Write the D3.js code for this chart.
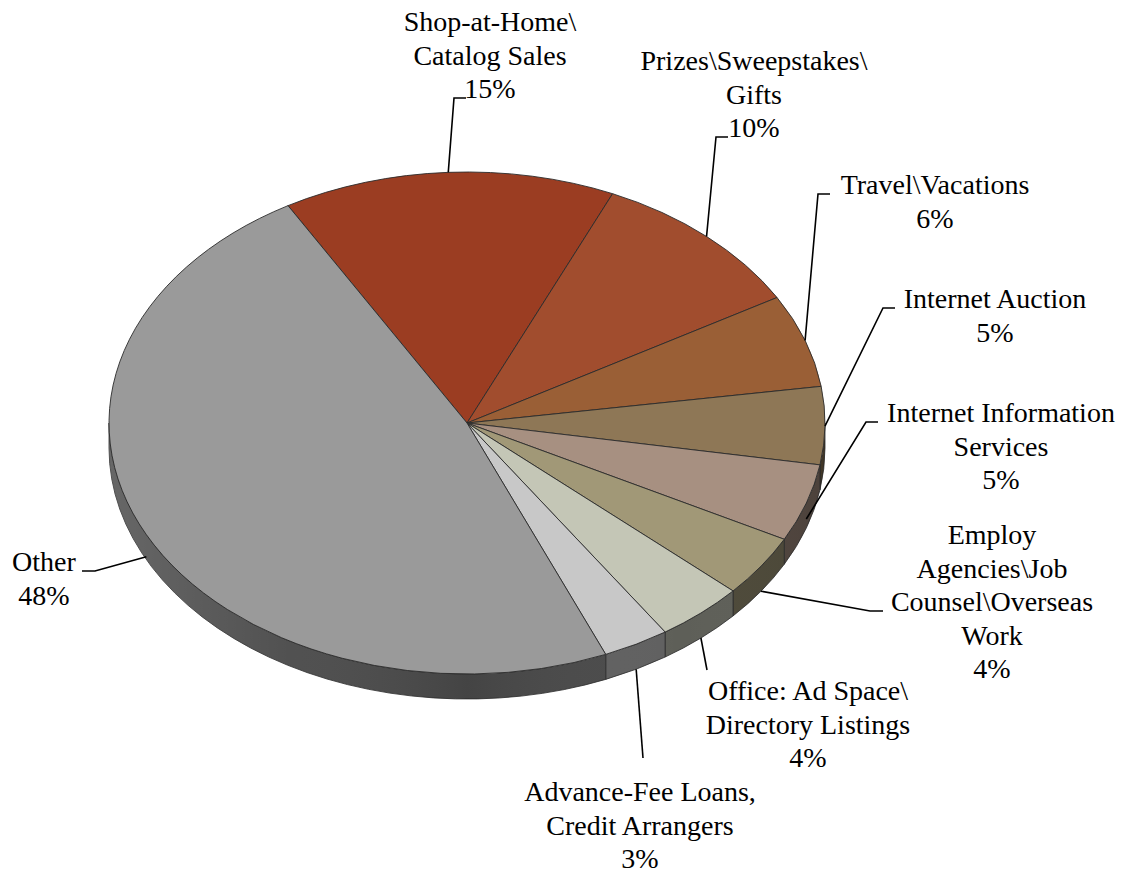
<!DOCTYPE html>
<html>
<head>
<meta charset="utf-8">
<script src="https://cdn.jsdelivr.net/npm/d3@7"></script>
<style>
  body { margin: 0; background: #ffffff; }
  svg { display: block; }
  .lbl { font-family: "Times New Roman", "Liberation Serif", Times, serif; font-size: 28px; }
</style>
</head>
<body>
<script>
// Fraud complaint categories (line breaks mark where each label wraps)
const categories = [
  "Shop-at-Home\\\nCatalog Sales",
  "Prizes\\Sweepstakes\\\nGifts",
  "Travel\\Vacations",
  "Internet Auction",
  "Internet Information\nServices",
  "Employ\nAgencies\\Job\nCounsel\\Overseas\nWork",
  "Office: Ad Space\\\nDirectory Listings",
  "Advance-Fee Loans,\nCredit Arrangers",
  "Other"
];
// Share of complaints, percent
const values = [15, 10, 6, 5, 5, 4, 4, 3, 48];
// Slice fill colours
const colors = ["#9b3d22", "#a14d2e", "#9a5f36", "#8e7756", "#a79081", "#a19877",
                "#c4c6b6", "#c8c8c8", "#9a9a9a"];

// Label layout: block centre x and baseline of first line
const labelAnchor = [[490, 31], [754, 70], [935, 194], [995, 308], [1001, 422],
                     [992, 544], [808, 700], [640, 801], [44, 571]];
// Leader lines: bend point and end point next to the label
const leaderBend = [[454, 98], [716, 137], [818, 194], [883, 308], [866, 422],
                    [870, 611], [707, 670], [643, 758], [95, 571]];
const leaderEnd  = [[466, 98], [728, 137], [830, 194], [895, 308], [878, 422],
                    [883, 611], [707, 670], [643, 758], [82, 571]];

const W = 1135, H = 880;
const cx = 467, cy = 423, rx = 358, ry = 251, depth = 25;
const lineH = 33.5;

const svg = d3.select("body").append("svg")
  .attr("width", W).attr("height", H)
  .attr("viewBox", `0 0 ${W} ${H}`);

const pie = d3.pie().sort(null)
  .startAngle(-Math.PI / 6)
  .endAngle(-Math.PI / 6 + 2 * Math.PI);
const arcs = pie(values);

// point on the tilted rim; angle measured clockwise from 12 o'clock
const pt = (a, dy = 0) => [cx + rx * Math.sin(a), cy - ry * Math.cos(a) + dy];
const f = p => `${p[0].toFixed(2)},${p[1].toFixed(2)}`;

// shading across the front wall
const defs = svg.append("defs");
const grad = defs.append("linearGradient").attr("id", "wallShade")
  .attr("gradientUnits", "userSpaceOnUse")
  .attr("x1", cx - rx).attr("y1", 0).attr("x2", cx + rx).attr("y2", 0);
grad.append("stop").attr("offset", "0").attr("stop-color", "#fff").attr("stop-opacity", 0.16);
grad.append("stop").attr("offset", "0.25").attr("stop-color", "#fff").attr("stop-opacity", 0.04);
grad.append("stop").attr("offset", "0.5").attr("stop-color", "#000").attr("stop-opacity", 0.08);
grad.append("stop").attr("offset", "0.8").attr("stop-color", "#fff").attr("stop-opacity", 0.0);
grad.append("stop").attr("offset", "1").attr("stop-color", "#000").attr("stop-opacity", 0.05);

// front wall of each slice (only the part facing the viewer)
const sidePath = d => {
  const s = Math.max(d.startAngle, Math.PI / 2);
  const e = Math.min(d.endAngle, 3 * Math.PI / 2);
  if (s >= e) return null;
  const large = (e - s) > Math.PI ? 1 : 0;
  return `M${f(pt(s))}A${rx},${ry} 0 ${large} 1 ${f(pt(e))}` +
         `L${f(pt(e, depth))}A${rx},${ry} 0 ${large} 0 ${f(pt(s, depth))}Z`;
};
const sides = svg.append("g");
arcs.forEach((d, i) => {
  const p = sidePath(d);
  if (!p) return;
  sides.append("path").attr("d", p)
    .attr("fill", d3.color(colors[i]).darker(2.05))
    .attr("stroke", "#2a2a2a").attr("stroke-width", 0.8);
  sides.append("path").attr("d", p).attr("fill", "url(#wallShade)");
});

// top faces
const topPath = d => {
  const large = (d.endAngle - d.startAngle) > Math.PI ? 1 : 0;
  return `M${cx},${cy}L${f(pt(d.startAngle))}A${rx},${ry} 0 ${large} 1 ${f(pt(d.endAngle))}Z`;
};
svg.append("g").selectAll("path").data(arcs).join("path")
  .attr("d", topPath)
  .attr("fill", (d, i) => colors[i])
  .attr("stroke", "#2b2b2b").attr("stroke-width", 0.9)
  .attr("stroke-linejoin", "round");

// leader lines
const leaders = svg.append("g").attr("fill", "none").attr("stroke", "#000").attr("stroke-width", 1.6);
arcs.forEach((d, i) => {
  const m = (d.startAngle + d.endAngle) / 2;
  const drop = depth * Math.min(1, Math.max(0, -Math.cos(m) * 2));
  const start = pt(m, drop);
  leaders.append("path")
    .attr("d", `M${f(start)}L${f(leaderBend[i])}L${f(leaderEnd[i])}`);
});

// labels: category lines followed by percentage
const labels = svg.append("g").attr("class", "lbl")
  .attr("fill", "#000").attr("text-anchor", "middle");
categories.forEach((c, i) => {
  const lines = c.split("\n").concat([`${values[i]}%`]);
  const t = labels.append("text");
  lines.forEach((ln, k) => {
    t.append("tspan").attr("x", labelAnchor[i][0])
      .attr("y", labelAnchor[i][1] + k * lineH).text(ln);
  });
});
</script>
</body>
</html>
